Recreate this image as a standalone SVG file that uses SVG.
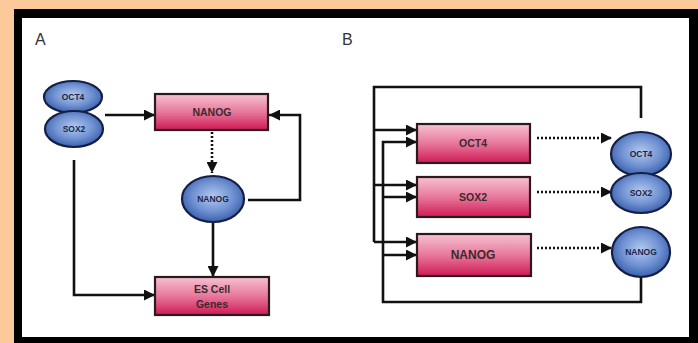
<svg xmlns="http://www.w3.org/2000/svg" width="698" height="343" viewBox="0 0 698 343">
<defs>
<linearGradient id="pink" x1="0" y1="0" x2="0" y2="1">
<stop offset="0" stop-color="#f6c2d2"/>
<stop offset="0.5" stop-color="#e8789b"/>
<stop offset="1" stop-color="#cf1a55"/>
</linearGradient>
<radialGradient id="blue" cx="0.5" cy="0.45" r="0.6">
<stop offset="0" stop-color="#b3c9ef"/>
<stop offset="0.55" stop-color="#6f91d2"/>
<stop offset="1" stop-color="#2f54a3"/>
</radialGradient>
<marker id="ah" viewBox="0 0 10 10" refX="10" refY="5" markerWidth="11" markerHeight="11" markerUnits="userSpaceOnUse" orient="auto">
<path d="M0,0 L10,5 L0,10 z" fill="#111"/>
</marker>
</defs>
<style>
.box{fill:url(#pink);stroke:#2a1a1e;stroke-width:2.2}
.ell{fill:url(#blue);stroke:#131f45;stroke-width:2.2}
.bt{font-family:"Liberation Sans",Arial,sans-serif;font-weight:bold;font-size:10.5px;fill:#3a2a2e;text-anchor:middle}
.et{font-family:"Liberation Sans",Arial,sans-serif;font-weight:bold;font-size:8.5px;fill:#1c2548;text-anchor:middle}
.lab{font-family:"Liberation Sans",Arial,sans-serif;font-size:16px;fill:#333}
.ln{fill:none;stroke:#111;stroke-width:2.6}
.dot{fill:none;stroke:#111;stroke-width:2.6;stroke-dasharray:2 2}
</style>
<rect x="0" y="0" width="698" height="343" fill="#fcc99b"/>
<rect x="14" y="9" width="684" height="334" fill="#000"/>
<rect x="22" y="18" width="667" height="319" fill="#fff"/>
<text class="lab" x="35" y="45">A</text>
<text class="lab" x="342" y="45">B</text>
<g id="connectors">
<path class="ln" d="M105,115 H155" marker-end="url(#ah)"/>
<path class="dot" d="M212,132 V173" marker-end="url(#ah)"/>
<path class="ln" d="M248,200 H300 V115 H269" marker-end="url(#ah)"/>
<path class="ln" d="M213,222 V277" marker-end="url(#ah)"/>
<path class="ln" d="M74,160 V295 H155" marker-end="url(#ah)"/>
<path class="ln" d="M641,118 V87 H374 V242"/>
<path class="ln" d="M374,130 H417" marker-end="url(#ah)"/>
<path class="ln" d="M374,185 H417" marker-end="url(#ah)"/>
<path class="ln" d="M374,242 H417" marker-end="url(#ah)"/>
<path class="ln" d="M641,276 V302 H383 V142 H417" marker-end="url(#ah)"/>
<path class="ln" d="M383,197 H417" marker-end="url(#ah)"/>
<path class="ln" d="M383,255 H417" marker-end="url(#ah)"/>
<path class="dot" d="M537,138 H612" marker-end="url(#ah)"/>
<path class="dot" d="M537,192 H612" marker-end="url(#ah)"/>
<path class="dot" d="M537,248 H612" marker-end="url(#ah)"/>
</g>
<g id="a-oct4"><ellipse class="ell" cx="73" cy="97" rx="29" ry="16"/><text class="et" x="73" y="100">OCT4</text></g>
<g id="a-sox2"><ellipse class="ell" cx="74" cy="129" rx="29" ry="18"/><text class="et" x="74" y="132">SOX2</text></g>
<g id="a-nanog-gene"><rect class="box" x="155" y="94" width="113" height="36"/><text class="bt" x="212" y="116">NANOG</text></g>
<g id="a-nanog-prot"><ellipse class="ell" cx="213" cy="199" rx="31" ry="23"/><text class="et" x="213" y="202">NANOG</text></g>
<g id="a-es"><rect class="box" x="155" y="277" width="114" height="38"/><text class="bt" x="212" y="293">ES Cell</text><text class="bt" x="212" y="308">Genes</text></g>
<g id="b-oct4-gene"><rect class="box" x="417" y="124" width="113" height="39"/><text class="bt" x="473" y="147">OCT4</text></g>
<g id="b-sox2-gene"><rect class="box" x="417" y="177" width="113" height="40"/><text class="bt" x="473" y="201">SOX2</text></g>
<g id="b-nanog-gene"><rect class="box" x="417" y="234" width="114" height="42"/><text class="bt" x="473" y="259" style="font-size:12px">NANOG</text></g>
<g id="b-oct4"><ellipse class="ell" cx="641" cy="154" rx="30" ry="22"/><text class="et" x="641" y="157">OCT4</text></g>
<g id="b-sox2"><ellipse class="ell" cx="641" cy="193" rx="30" ry="20"/><text class="et" x="641" y="196">SOX2</text></g>
<g id="b-nanog"><ellipse class="ell" cx="641" cy="252" rx="29" ry="25"/><text class="et" x="641" y="255">NANOG</text></g>
</svg>
